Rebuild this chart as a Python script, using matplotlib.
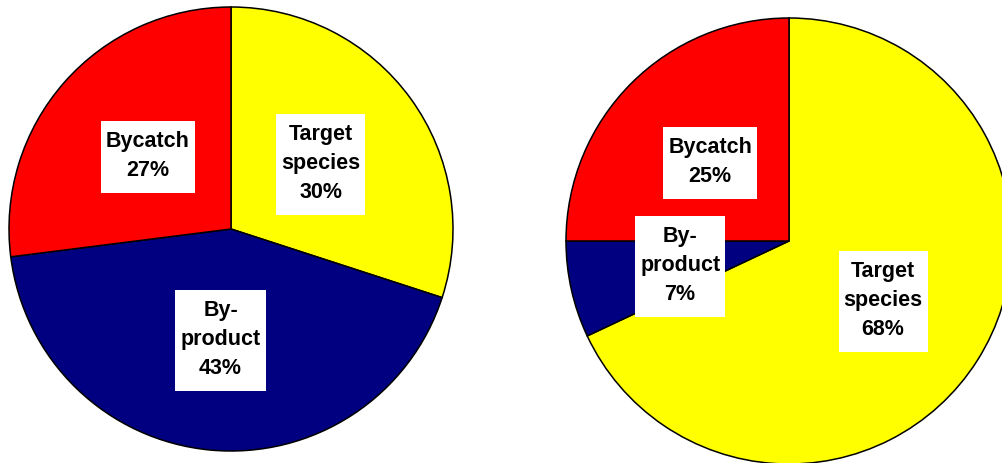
import matplotlib
matplotlib.use("Agg")
import matplotlib.pyplot as plt
from matplotlib.patches import Rectangle

# Catch composition, wedges listed clockwise from 12 o'clock
categories = ["Target\nspecies", "By-\nproduct", "Bycatch"]
colors = ["#FFFF00", "#000080", "#FF0000"]
share_left = [30, 43, 27]
share_right = [68, 7, 25]

plt.rcParams["font.family"] = ["Liberation Sans", "DejaVu Sans"]

fig = plt.figure(figsize=(10.02, 4.63), dpi=100)
ax = fig.add_axes([0, 0, 1, 1])

all_texts = []


def draw_pie(values, center, radius):
    labels = [f"{c}\n{v}%" for c, v in zip(categories, values)]
    wedges, texts = ax.pie(
        values,
        labels=labels,
        colors=colors,
        startangle=90,
        counterclock=False,
        center=center,
        radius=radius,
        labeldistance=0.5,
        frame=True,
        wedgeprops=dict(edgecolor="black", linewidth=1.1),
        textprops=dict(fontsize=15.5, fontweight="bold", color="black"),
    )
    for t in texts:
        t.set_ha("center")
        t.set_va("center")
        t.set_multialignment("center")
        t.set_linespacing(1.5)
        t.set_zorder(5)
    all_texts.extend(texts)


draw_pie(share_left, center=(231, 234), radius=222)
draw_pie(share_right, center=(789, 222), radius=223)

ax.set_xlim(0, 1002)
ax.set_ylim(0, 463)
ax.set_aspect("equal")
ax.axis("off")

# White label boxes, a little deeper below the text than above it
fig.canvas.draw()
renderer = fig.canvas.get_renderer()
inv = ax.transData.inverted()
for t in all_texts:
    bb = t.get_window_extent(renderer)
    (x0, y0), (x1, y1) = inv.transform([[bb.x0, bb.y0], [bb.x1, bb.y1]])
    x0, x1 = x0 - 5, x1 + 5
    y0, y1 = y0 - 12, y1 + 10
    ax.add_patch(Rectangle((x0, y0), x1 - x0, y1 - y0, facecolor="white",
                           edgecolor="none", zorder=4))

fig.savefig("out.png", dpi=100, facecolor="white")
